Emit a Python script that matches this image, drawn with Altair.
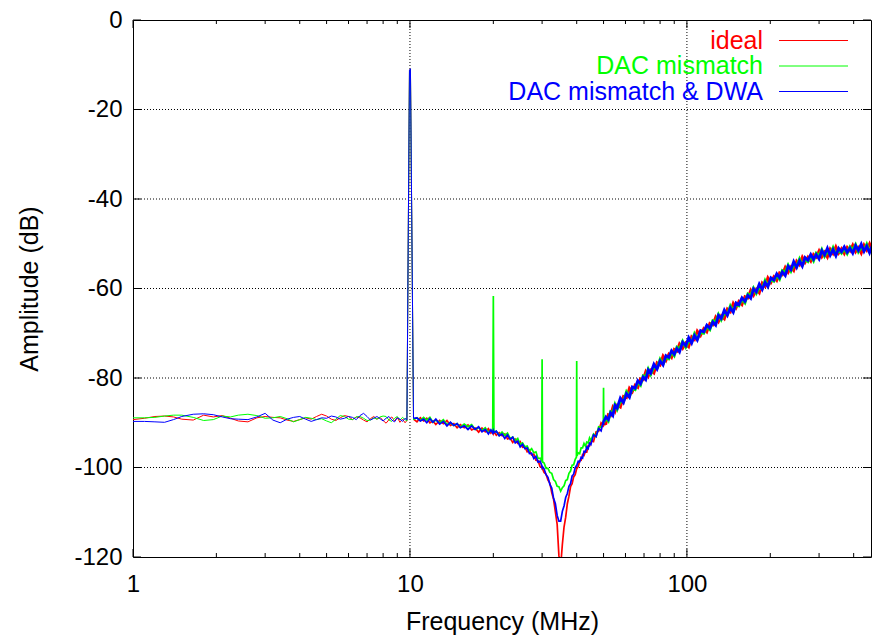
import altair as alt
import pandas as pd

SERIES = ["ideal", "DAC mismatch", "DAC mismatch & DWA"]
COLORS = ["#ff0000", "#00ff00", "#0000ff"]

X_TICKS = [1, 10, 100]
X_MINOR = [2, 3, 4, 5, 6, 7, 8, 9, 20, 30, 40, 50, 60, 70, 80, 90, 200, 300, 400]
Y_TICKS = [0, -20, -40, -60, -80, -100, -120]
X_GRID = [10, 100]
Y_GRID = [-20, -40, -60, -80, -100]

# ---- below the carrier (1 .. 10.3 MHz), including the 10 MHz tone ----
FREQ_LOW = [1.0, 1.1, 1.2, 1.3, 1.4, 1.5, 1.65, 1.8, 1.95, 2.1, 2.25, 2.4,
            2.6, 2.8, 3.0, 3.2, 3.4, 3.6, 3.8, 4.0,
            4.2, 4.4, 4.6, 4.8, 5.0,
            5.2, 5.4, 5.6, 5.8, 6.0,
            6.2, 6.4, 6.6, 6.8, 7.0,
            7.2, 7.4, 7.6, 7.8, 8.0,
            8.2, 8.4, 8.6, 8.8, 9.0,
            9.2, 9.4, 9.6,
            9.75, 9.96, 10.04, 10.3]
IDEAL_LOW = [-89.3, -89.0, -88.6, -88.5, -88.7, -89.2, -89.4, -88.3, -88.7, -88.4, -89.0, -89.6,
             -89.8, -88.9, -88.6, -88.8, -88.9, -89.4, -89.7, -89.3,
             -88.9, -89.2, -88.6, -88.1, -88.5,
             -89.2, -89.5, -88.9, -88.4, -88.6,
             -89.3, -88.7, -88.9, -89.4, -89.8,
             -89.1, -88.6, -89.2, -88.8, -89.5,
             -90.1, -89.3, -88.7, -89.6, -88.8,
             -89.9, -89.2, -90.0,
             -89.5, -11.3, -11.0, -89.2]
MISMATCH_LOW = [-88.9, -88.9, -88.8, -88.5, -88.3, -88.3, -88.8, -89.5, -89.3, -88.5, -88.7, -88.3,
                -88.1, -88.4, -89.0, -88.9, -88.6, -89.1, -89.8, -89.3,
                -88.8, -89.0, -89.3, -89.1, -89.6,
                -90.0, -89.2, -88.4, -88.6, -89.2,
                -89.3, -88.7, -88.6, -89.0, -89.5,
                -89.4, -88.9, -89.2, -88.7, -88.5,
                -88.6, -89.4, -89.7, -89.0, -88.6,
                -89.4, -88.8, -89.3,
                -89.6, -11.4, -11.1, -89.3]
DWA_LOW = [-89.7, -89.7, -89.8, -89.9, -89.3, -88.6, -88.1, -88.0, -88.2, -88.7, -89.1, -89.2,
           -89.3, -88.7, -87.9, -89.4, -90.0, -89.2, -88.8, -88.6,
           -89.2, -89.7, -89.3, -88.9, -89.0,
           -88.5, -88.7, -89.2, -89.0, -88.6,
           -88.8, -89.3, -88.4, -87.9, -88.6,
           -89.4, -89.0, -88.6, -89.1, -89.6,
           -89.0, -88.6, -89.4, -89.8, -88.9,
           -89.2, -89.7, -89.0,
           -89.4, -11.2, -10.9, -89.0]

# ---- above the carrier (10.3 .. 467 MHz) ----
FREQ_HIGH = [10.3,
             10.6, 10.9, 11.2, 11.5, 11.8, 12.1, 12.4, 12.8, 13.2, 13.6, 14.0, 14.4, 14.8, 15.2,
             15.7, 16.2, 16.7, 17.2, 17.7, 18.2, 18.7, 19.2, 19.6,
             19.9, 20.0, 20.1,
             20.5, 21.0, 21.5, 22.0, 22.5, 23.0, 23.5, 24.0, 24.5, 25.0, 25.5, 26.0, 26.5,
             27.0, 27.5, 28.0, 28.5, 29.0, 29.5,
             29.9, 30.0, 30.1,
             30.5, 31.0, 31.5, 32.0, 32.5, 33.0, 33.5, 34.0, 34.5, 35.0, 35.5, 36.0, 36.5,
             37.0, 37.5, 38.0, 38.5, 39.0, 39.5,
             39.9, 40.0, 40.1,
             40.5, 41.0, 41.5, 42.0, 42.5, 43.0, 43.5, 44.0, 44.5, 45.0,
             46.0, 47.0, 48.0, 49.0,
             49.9, 50.0, 50.1,
             51.0, 52.0, 53.0, 54.0, 55.0, 56.0,
             57.5, 59.0, 60.5, 62.0, 63.5, 65.0, 66.5, 68.0, 69.5, 71.0, 72.5, 74.0,
             76.0, 78.0, 80.0, 82.0, 84.0, 86.0, 88.0, 90.0, 92.0, 94.0,
             96.5, 99.0, 101.5, 104.0, 106.5, 109.0,
             112.0, 115.0, 118.0, 121.0, 124.0, 127.0, 130.0, 133.0,
             136.5, 140.0, 143.5, 147.0, 150.5, 154.0,
             158.0, 162.0, 166.0, 170.0, 174.0, 178.0,
             182.5, 187.0, 191.5, 196.0,
             201.0, 206.0, 211.0, 216.0, 221.0,
             226.5, 232.0, 237.5, 243.0,
             249.0, 255.0, 261.0, 267.0,
             273.5, 280.0, 286.5, 293.0, 300.0,
             307.0, 314.0, 321.5, 329.0,
             337.0, 345.0, 353.0, 361.5, 370.0,
             379.0, 388.0, 397.0, 406.5, 416.0,
             426.0, 436.0, 446.0, 456.5, 467.0]

IDEAL_HIGH = [-89.2,
              -89.8, -88.9, -89.6, -89.0, -90.0, -89.6, -90.4, -89.5, -90.2, -89.5, -90.6, -90.2, -91.1, -90.4,
              -91.1, -90.5, -91.6, -91.2, -92.1, -91.2, -92.0, -91.3, -92.3,
              -91.9, -92.4, -92.0,
              -92.8, -92.2, -92.9, -92.5, -93.6, -93.4, -94.4, -93.7, -94.6, -94.2, -95.5, -95.4, -96.5,
              -96.2, -97.2, -97.0, -98.4, -98.5, -99.8,
              -100.0, -99.7, -100.3,
              -101.1, -101.5, -102.8, -103.5, -105.6, -107.1, -109.9, -112.7, -119.7, -122.1, -117.2, -113.3, -111.1,
              -108.1, -106.4, -104.3, -103.6, -102.1, -101.6,
              -100.5, -100.0, -100.2,
              -99.8, -98.5, -98.4, -97.1, -97.3, -96.4, -96.5, -95.1, -95.2, -94.0,
              -94.2, -92.0, -91.9, -90.0,
              -90.6, -89.8, -90.4,
              -90.2, -88.2, -88.4, -86.6, -87.5, -86.1,
              -86.5, -84.1, -84.4, -82.3, -83.1, -81.6, -82.1, -80.2, -80.4, -78.6, -79.6, -78.3,
              -78.9, -76.6, -77.1, -75.1, -76.1, -74.7, -75.4, -73.6, -74.0, -72.4,
              -73.4, -72.2, -73.0, -70.8, -71.4, -69.5,
              -70.5, -69.0, -69.7, -67.8, -68.1, -66.4, -67.4, -66.1,
              -66.8, -64.6, -65.2, -63.3, -64.3, -62.9,
              -63.6, -61.8, -62.1, -60.4, -61.5, -60.2,
              -61.0, -58.8, -59.5, -57.6,
              -58.7, -57.4, -58.2, -56.5, -56.9,
              -55.3, -56.4, -55.2, -56.0,
              -53.9, -54.7, -53.0, -54.2,
              -53.0, -53.9, -52.4, -53.0, -51.6,
              -52.9, -51.9, -53.0, -51.2,
              -52.2, -50.7, -52.1, -51.1, -52.2,
              -50.8, -51.6, -50.3, -51.8, -50.9,
              -52.1, -50.3, -51.4, -50.0, -51.5]

MISMATCH_HIGH = [-89.3,
                 -88.9, -89.5, -88.8, -89.4, -88.8, -89.9, -89.4, -90.0, -89.3, -90.4, -90.0, -90.6, -90.2, -91.0,
                 -90.3, -90.9, -90.4, -91.5, -91.1, -91.7, -91.1, -92.2, -91.7,
                 -92.0, -61.7, -92.1,
                 -91.9, -92.8, -92.1, -92.8, -92.3, -93.5, -93.2, -94.0, -93.5, -94.8, -94.5, -95.4, -95.2,
                 -96.3, -95.8, -96.7, -96.5, -98.0, -97.9,
                 -98.5, -75.8, -98.7,
                 -99.0, -100.2, -100.2, -101.1, -101.3, -102.7, -103.1, -104.2, -104.3, -105.3, -104.5, -104.1, -102.9,
                 -102.7, -101.3, -100.8, -99.5, -99.4, -98.2,
                 -97.7, -76.2, -97.4,
                 -96.7, -96.9, -95.6, -95.6, -94.6, -95.2, -94.3, -94.5, -93.4, -94.0,
                 -92.5, -93.1, -90.9, -91.0,
                 -90.2, -82.2, -89.9,
                 -89.0, -89.6, -87.5, -87.7, -85.9, -87.0,
                 -85.2, -85.3, -83.1, -84.1, -82.4, -82.6, -80.9, -81.6, -79.5, -79.7, -78.0, -79.2,
                 -77.6, -77.8, -75.8, -76.9, -75.4, -75.7, -74.2, -75.0, -73.1, -73.5,
                 -71.8, -73.1, -71.7, -72.0, -70.1, -71.3,
                 -69.8, -70.0, -68.5, -69.2, -67.2, -67.5, -65.8, -67.0,
                 -65.5, -65.8, -63.9, -65.1, -63.6, -63.9,
                 -62.4, -63.2, -61.2, -61.5, -59.9, -61.1,
                 -59.7, -60.0, -58.2, -59.4,
                 -58.0, -58.4, -57.0, -57.9, -56.0,
                 -56.4, -54.8, -56.1, -54.7,
                 -55.1, -53.4, -54.8, -53.5,
                 -54.0, -52.7, -53.8, -52.1, -52.7,
                 -51.3, -52.8, -51.7, -52.4,
                 -50.9, -52.5, -51.4, -52.1, -51.0,
                 -52.2, -50.7, -51.4, -50.2, -51.8,
                 -50.8, -51.5, -50.1, -51.8, -50.8]

DWA_HIGH = [-89.0,
            -88.9, -89.6, -89.2, -90.0, -89.1, -89.9, -89.2, -90.3, -89.7, -90.7, -89.9, -90.6, -90.2, -91.1,
            -90.7, -91.5, -90.7, -91.5, -90.9, -92.0, -91.5, -92.5, -91.6,
            -92.3, -91.8, -92.2,
            -91.9, -92.9, -92.5, -93.5, -92.7, -93.7, -93.2, -94.5, -94.1, -95.4, -94.8, -95.8, -95.6,
            -96.9, -96.8, -98.0, -97.5, -98.8, -98.6,
            -99.5, -100.0, -99.8,
            -100.3, -101.6, -102.2, -103.8, -104.6, -106.9, -108.1, -110.7, -112.0, -112.0, -109.8, -108.6, -106.7,
            -105.8, -104.2, -103.6, -101.9, -101.5, -100.0,
            -99.6, -99.8, -99.4,
            -98.6, -98.7, -97.7, -97.9, -96.4, -96.5, -95.4, -95.8, -94.6, -94.9,
            -92.7, -93.1, -91.3, -91.8,
            -89.6, -90.5, -89.7,
            -88.7, -89.3, -87.8, -88.4, -86.1, -86.7,
            -84.5, -85.5, -83.5, -84.3, -82.0, -82.3, -80.6, -81.3, -79.8, -80.4, -78.2, -78.9,
            -76.9, -78.0, -76.2, -77.1, -75.0, -75.4, -73.9, -74.7, -73.4, -74.2,
            -72.0, -72.8, -71.0, -72.2, -70.5, -71.5,
            -69.4, -69.7, -68.2, -68.9, -67.5, -68.2, -66.0, -66.7,
            -64.8, -66.0, -64.3, -65.3, -63.2, -63.6,
            -62.1, -62.9, -61.5, -62.2, -60.1, -60.8,
            -59.0, -60.2, -58.6, -59.6,
            -57.6, -58.1, -56.7, -57.6, -56.3,
            -57.1, -55.0, -55.8, -54.0,
            -55.3, -53.8, -55.0, -53.1,
            -53.7, -52.4, -53.5, -52.4, -53.4,
            -51.5, -52.5, -51.0, -52.6,
            -51.3, -52.7, -51.0, -51.8, -50.7,
            -51.9, -51.0, -52.1, -50.4, -51.5,
            -50.1, -51.7, -50.5, -52.0, -50.4]

LOW = [IDEAL_LOW, MISMATCH_LOW, DWA_LOW]
HIGH = [IDEAL_HIGH, MISMATCH_HIGH, DWA_HIGH]

FONT = "Liberation Sans"
W, H = 738, 537
X_MAX = 462
SPLIT = 87  # index in FREQ_HIGH where the thick noise band starts (50.0 MHz)

xscale = alt.Scale(type="log", domain=[1, X_MAX], nice=False)
yscale = alt.Scale(domain=[-120, 0], nice=False, zero=False)

X = alt.X("f:Q", scale=xscale,
          axis=alt.Axis(values=X_TICKS, format="d", title="Frequency (MHz)",
                        grid=False, ticks=False, domain=False, labelFlush=False,
                        labelOverlap=False, labelFontSize=24, titleFontSize=25,
                        labelPadding=15, titlePadding=13, labelColor="black",
                        titleColor="black", titleFontWeight="normal",
                        labelFont=FONT, titleFont=FONT))
Y = alt.Y("db:Q", scale=yscale,
          axis=alt.Axis(values=Y_TICKS, labelExpr="datum.value + ''", title="Amplitude (dB)",
                        grid=False, ticks=False, domain=False, labelFlush=False,
                        labelOverlap=False, labelFontSize=24, titleFontSize=25,
                        labelPadding=11, titlePadding=31, labelColor="black",
                        titleColor="black", titleFontWeight="normal",
                        labelFont=FONT, titleFont=FONT))

layers = []

# dotted grid
gx = alt.Chart(pd.DataFrame({"f": X_GRID})).mark_rule(
    color="#000000", strokeWidth=1, strokeDash=[1, 2]).encode(x=X)
gy = alt.Chart(pd.DataFrame({"db": Y_GRID})).mark_rule(
    color="#000000", strokeWidth=1, strokeDash=[1, 2]).encode(y=Y)
layers += [gx, gy]

# inward ticks
tick_major_x = pd.DataFrame({"f": X_TICKS})
tick_minor_x = pd.DataFrame({"f": X_MINOR})
for df, ln in [(tick_major_x, 8), (tick_minor_x, 4)]:
    layers.append(alt.Chart(df).mark_rule(color="black", strokeWidth=1).encode(
        x=X, y=alt.value(H), y2=alt.value(H - ln)))
    layers.append(alt.Chart(df).mark_rule(color="black", strokeWidth=1).encode(
        x=X, y=alt.value(0), y2=alt.value(ln)))
tick_y = pd.DataFrame({"db": Y_TICKS})
layers.append(alt.Chart(tick_y).mark_rule(color="black", strokeWidth=1).encode(
    y=Y, x=alt.value(0), x2=alt.value(8)))
layers.append(alt.Chart(tick_y).mark_rule(color="black", strokeWidth=1).encode(
    y=Y, x=alt.value(W), x2=alt.value(W - 8)))

# spectra
for name, color, low, high in zip(SERIES, COLORS, LOW, HIGH):
    parts = [
        (FREQ_LOW, low, 1.0),
        (FREQ_HIGH[:SPLIT + 1], high[:SPLIT + 1], 1.7),
        (FREQ_HIGH[SPLIT:], high[SPLIT:], 2.8),
    ]
    for fr, vals, sw in parts:
        d = pd.DataFrame({"f": fr, "db": vals})
        layers.append(alt.Chart(d).mark_line(color=color, strokeWidth=sw, clip=True).encode(
            x=X, y=Y, order="f:Q"))

# legend (top right, inside)
LEG_Y = [20.5, 46, 71.5]
for name, color, ly in zip(SERIES, COLORS, LEG_Y):
    d = pd.DataFrame({"label": [name]})
    layers.append(alt.Chart(d).mark_text(align="right", baseline="middle", fontSize=25,
                                         font=FONT, color=color).encode(
        text="label:N", x=alt.value(630), y=alt.value(ly)))
    layers.append(alt.Chart(d).mark_rule(color=color, strokeWidth=1).encode(
        x=alt.value(646), x2=alt.value(715), y=alt.value(ly)))

chart = alt.layer(*layers).properties(
    width=W, height=H,
    autosize=alt.AutoSizeParams(type="none"),
    padding={"left": 133, "top": 20, "right": 1, "bottom": 80},
    background="white",
).configure_view(stroke="black", strokeWidth=1).configure_axis(labelFont=FONT, titleFont=FONT)

chart.save("out.html", embed_options={"renderer": "svg", "actions": False})
